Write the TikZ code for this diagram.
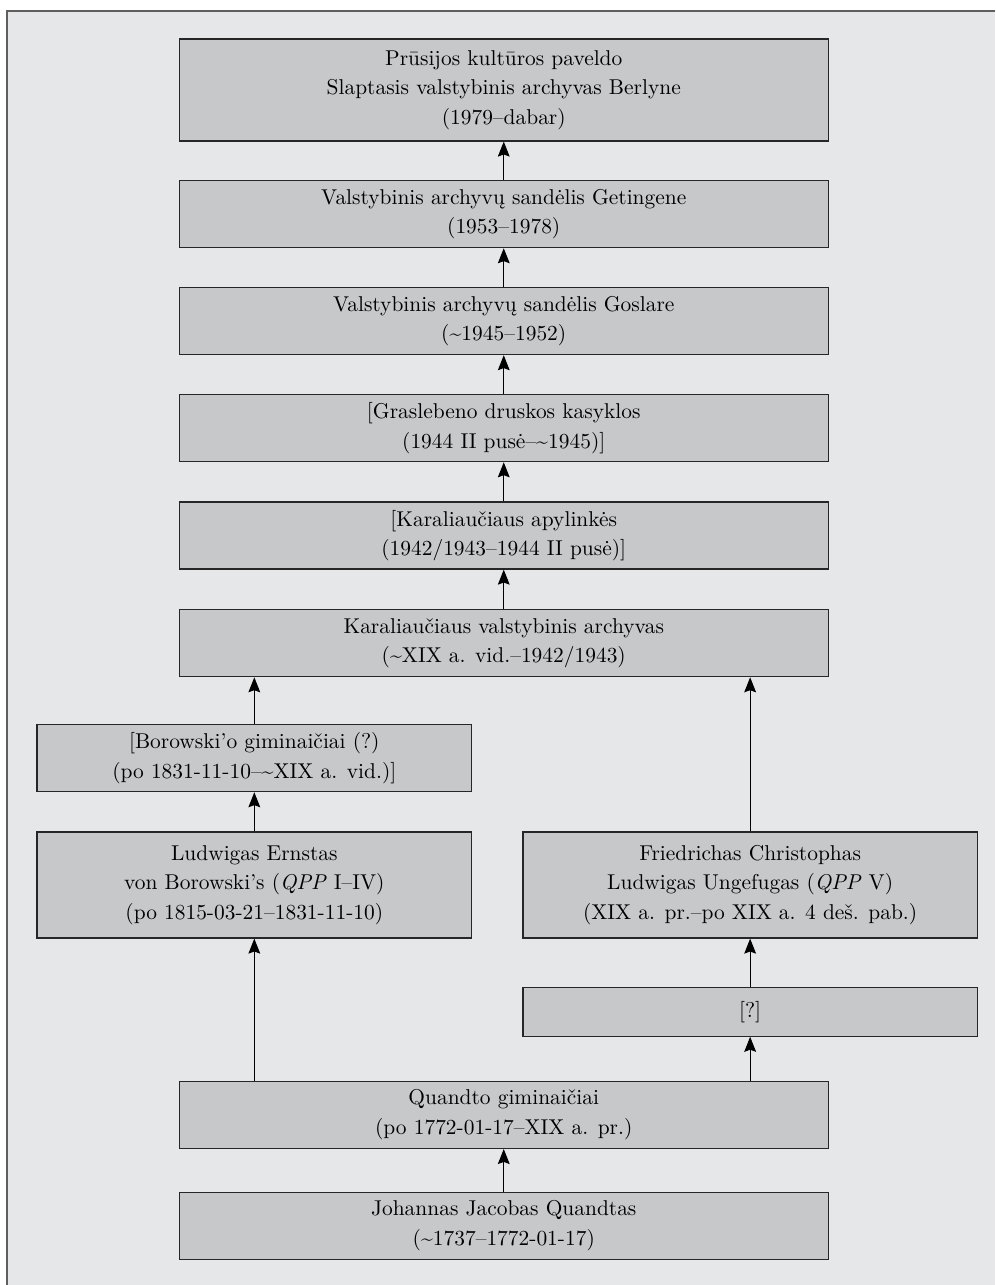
\documentclass[tikz,border=0pt]{standalone}
\usepackage{tikz}
\usetikzlibrary{arrows.meta, calc}
\definecolor{fond}{RGB}{230,231,232}
\definecolor{boite}{RGB}{199,200,202}
\definecolor{cadre}{RGB}{95,95,95}

\begin{document}
\begin{tikzpicture}[scale=1.0,
  box/.style={draw=black!85, fill=boite, line width=0.6pt, inner sep=0pt,
    minimum height=1.1cm, align=center, font=\fontsize{10}{13.8}\selectfont},
  mid/.style={box, minimum width=10.64cm},
  gauche/.style={box, minimum width=7.13cm},
  droite/.style={box, minimum width=7.45cm},
  fleche/.style={-{Stealth[length=7pt, width=5.5pt, inset=1pt]}, line width=0.45pt}]
  \useasboundingbox (0,0) rectangle (16.32,-21.07);

  % Fond et cadre
  \fill[fond] (0.115,-0.18) rectangle (16.32,-21.07);
  \draw[cadre, line width=0.9pt] (0.115,-21.07) -- (0.115,-0.18) -- (16.32,-0.18);

  % Colonne centrale
  \node[mid, minimum height=1.67cm] (berlynas) at (8.26,-1.476)
    {Prūsijos kultūros paveldo\\Slaptasis valstybinis archyvas Berlyne\\(1979–dabar)};
  \node[mid] (getingena) at (8.26,-3.51)
    {Valstybinis archyvų sandėlis Getingene\\(1953–1978)};
  \node[mid] (goslaras) at (8.26,-5.264)
    {Valstybinis archyvų sandėlis Goslare\\(\textasciitilde1945–1952)};
  \node[mid] (graslebenas) at (8.26,-7.02)
    {[Graslebeno druskos kasyklos\\(1944 II pusė–\textasciitilde1945)]};
  \node[mid] (apylinkes) at (8.26,-8.78)
    {[Karaliaučiaus apylinkės\\(1942/1943–1944 II pusė)]};
  \node[mid] (karaliaucius) at (8.26,-10.545)
    {Karaliaučiaus valstybinis archyvas\\(\textasciitilde XIX a. vid.–1942/1943)};

  % Kairė šaka
  \node[gauche] (giminaiciai) at (4.17,-12.43)
    {[Borowski’o giminaičiai (?)\\(po 1831-11-10–\textasciitilde XIX a. vid.)]};
  \node[gauche, minimum height=1.74cm] (borowskis) at (4.17,-14.51)
    {Ludwigas Ernstas\\von Borowski’s (\textit{QPP} I–IV)\\(po 1815-03-21–1831-11-10)};

  % Dešinė šaka
  \node[droite, minimum height=1.74cm] (ungefugas) at (12.30,-14.51)
    {Friedrichas Christophas\\Ludwigas Ungefugas (\textit{QPP} V)\\(XIX a. pr.–po XIX a. 4 deš. pab.)};
  \node[droite, minimum height=0.8cm] (nezinoma) at (12.30,-16.59) {[?]};

  % Apačia
  \node[mid] (quandtai) at (8.26,-18.28)
    {Quandto giminaičiai\\(po 1772-01-17–XIX a. pr.)};
  \node[mid] (quandtas) at (8.26,-20.10)
    {Johannas Jacobas Quandtas\\(\textasciitilde1737–1772-01-17)};

  % Rodyklės
  \draw[fleche] (quandtas) -- (quandtai);
  \draw[fleche] (quandtai.north -| borowskis.south) -- (borowskis.south);
  \draw[fleche] (quandtai.north -| nezinoma.south) -- (nezinoma.south);
  \draw[fleche] (nezinoma) -- (ungefugas);
  \draw[fleche] (borowskis) -- (giminaiciai);
  \draw[fleche] (giminaiciai.north) -- (giminaiciai.north |- karaliaucius.south);
  \draw[fleche] (ungefugas.north) -- (ungefugas.north |- karaliaucius.south);
  \draw[fleche] (karaliaucius) -- (apylinkes);
  \draw[fleche] (apylinkes) -- (graslebenas);
  \draw[fleche] (graslebenas) -- (goslaras);
  \draw[fleche] (goslaras) -- (getingena);
  \draw[fleche] (getingena) -- (berlynas);
\end{tikzpicture}
\end{document}
